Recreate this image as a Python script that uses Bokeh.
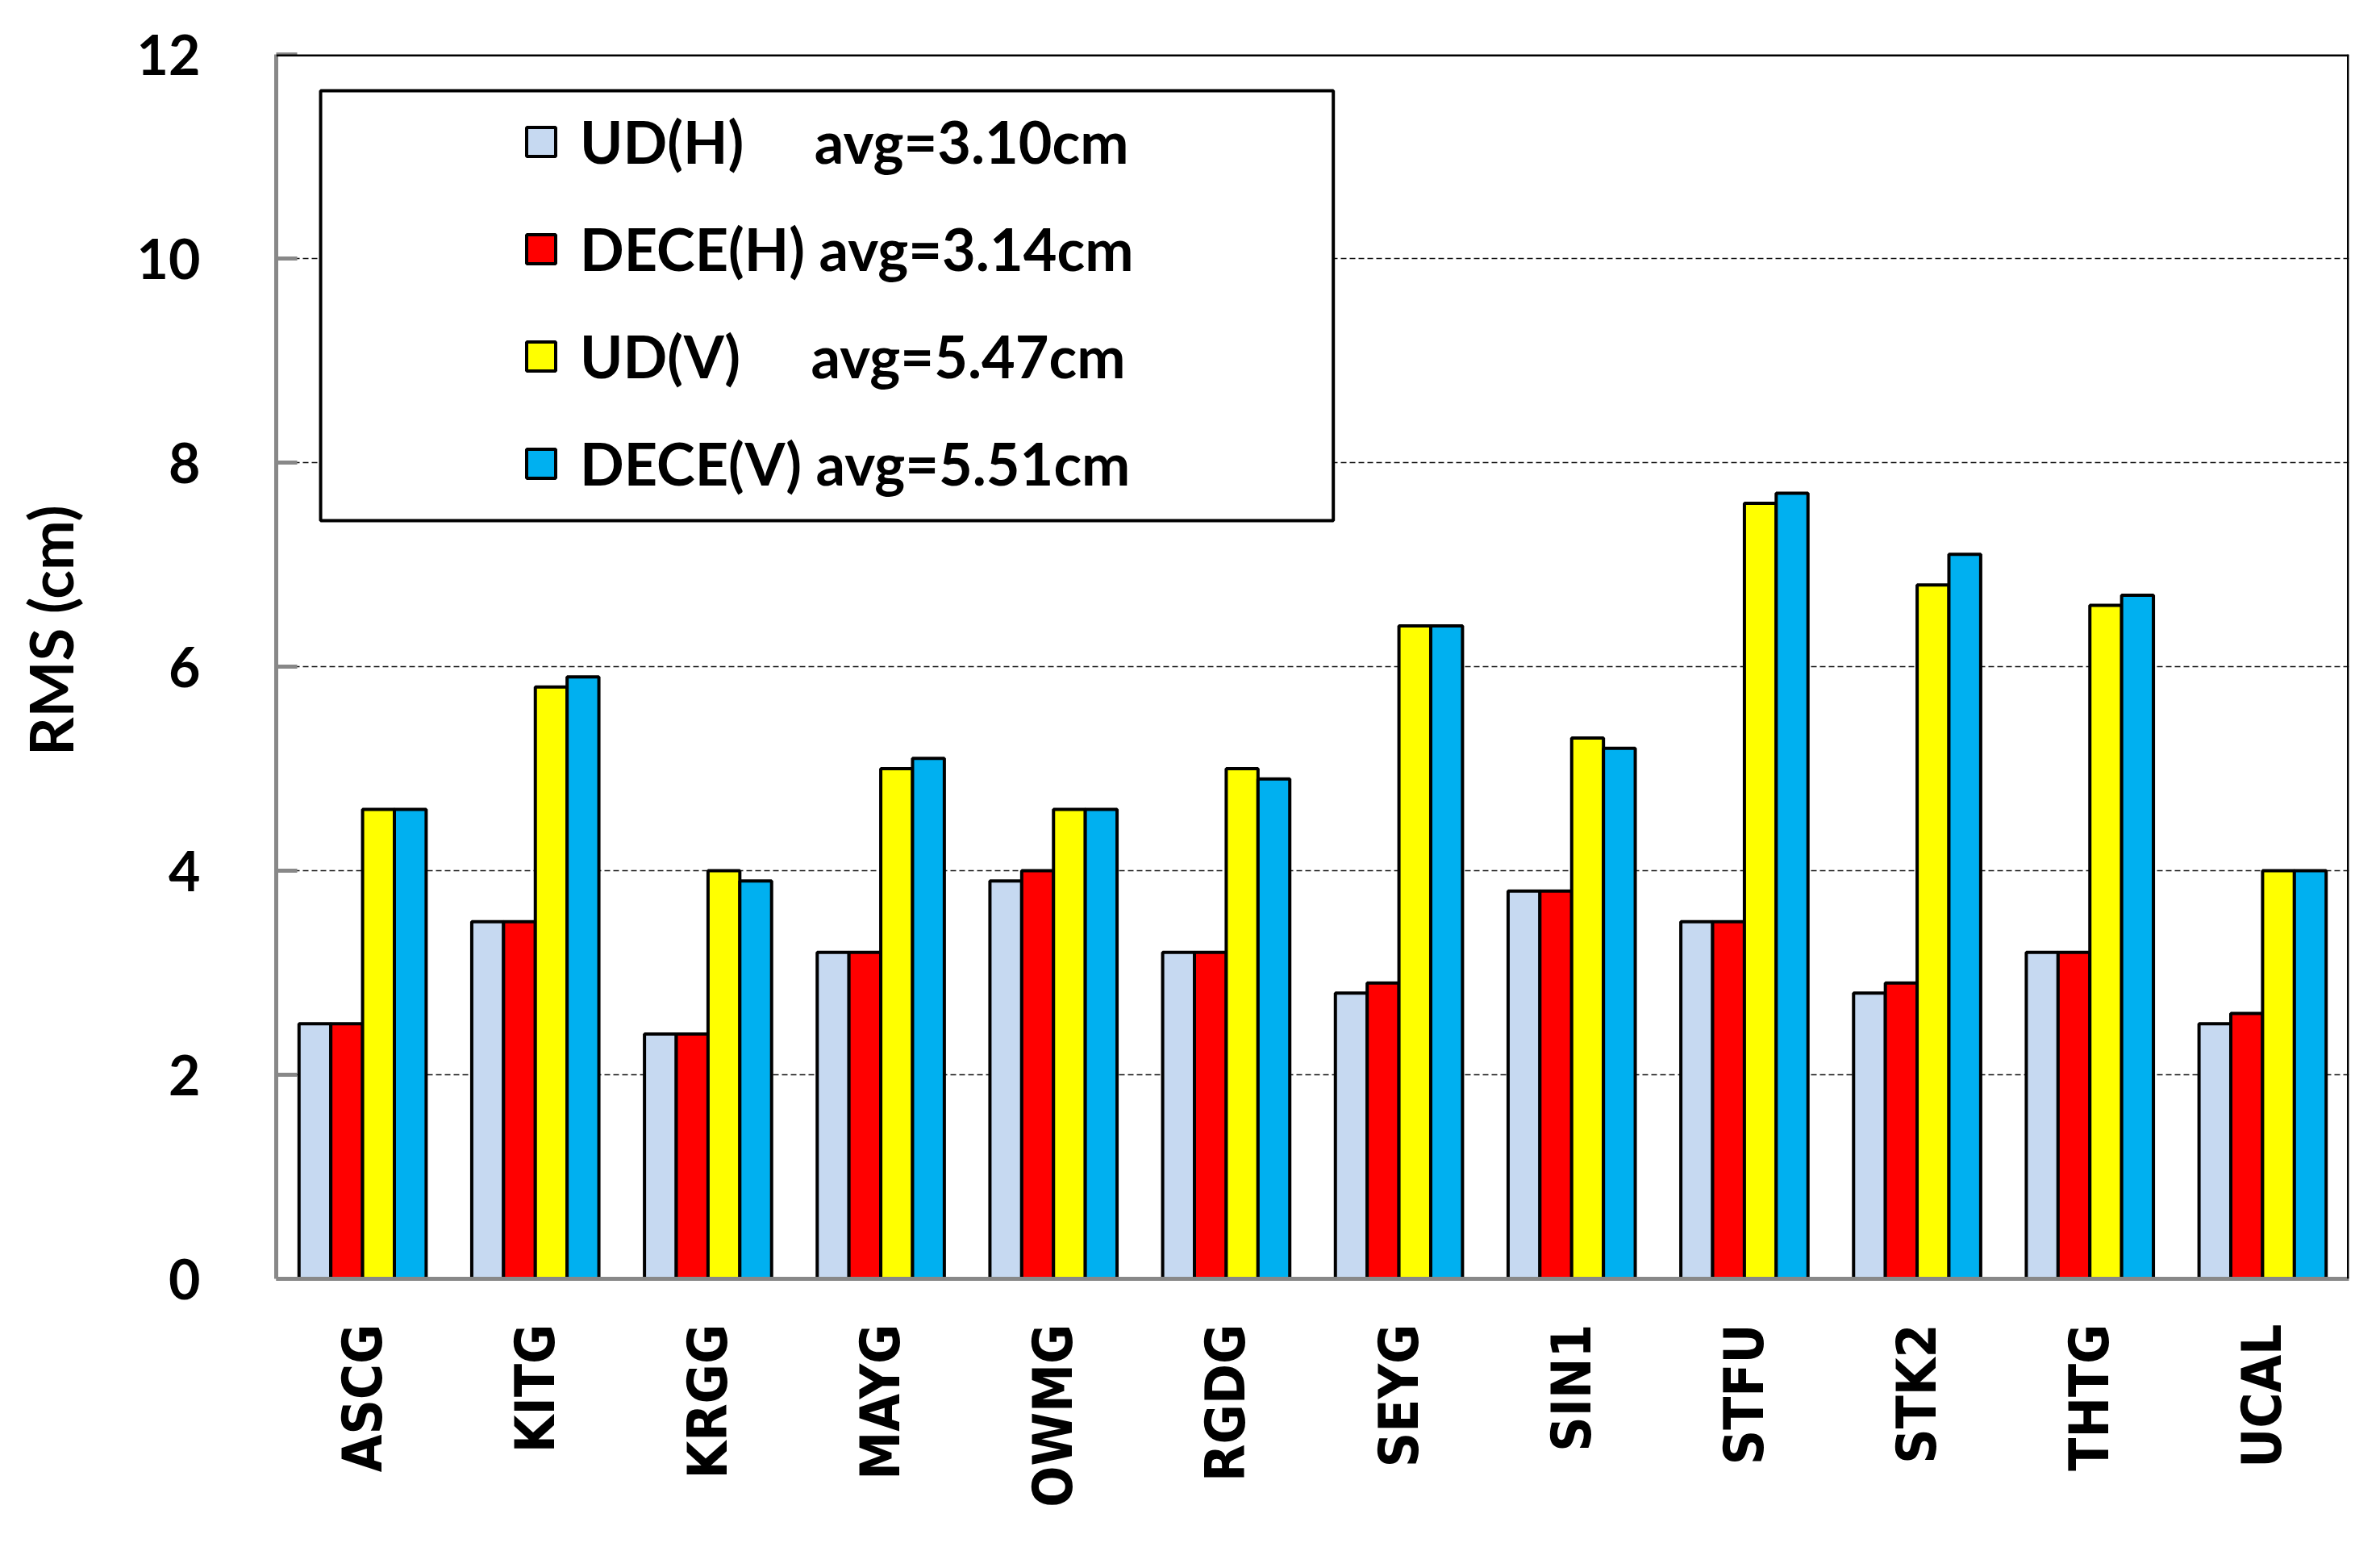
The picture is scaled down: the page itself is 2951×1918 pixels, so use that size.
import math
from bokeh.plotting import figure
from bokeh.models import (ColumnDataSource, Legend, LegendItem, BoxAnnotation,
                          FixedTicker, Span)
from bokeh.transform import dodge
from bokeh.embed import file_html
from bokeh.resources import INLINE

sites = ["ASCG", "KITG", "KRGG", "MAYG", "OWMG", "RGDG",
         "SEYG", "SIN1", "STFU", "STK2", "THTG", "UCAL"]
ud_h = [2.5, 3.5, 2.4, 3.2, 3.9, 3.2, 2.8, 3.8, 3.5, 2.8, 3.2, 2.5]
dece_h = [2.5, 3.5, 2.4, 3.2, 4.0, 3.2, 2.9, 3.8, 3.5, 2.9, 3.2, 2.6]
ud_v = [4.6, 5.8, 4.0, 5.0, 4.6, 5.0, 6.4, 5.3, 7.6, 6.8, 6.6, 4.0]
dece_v = [4.6, 5.9, 3.9, 5.1, 4.6, 4.9, 6.4, 5.2, 7.7, 7.1, 6.7, 4.0]

series_keys = ["ud_h", "dece_h", "ud_v", "dece_v"]
legend_labels = [
    "UD(H)\u00a0\u00a0\u00a0\u00a0 avg=3.10cm",
    "DECE(H) avg=3.14cm",
    "UD(V)\u00a0\u00a0\u00a0\u00a0 avg=5.47cm",
    "DECE(V) avg=5.51cm",
]
colors = ["#C6D9F1", "#FF0000", "#FFFF00", "#00B0F0"]
y_ticks = [0, 2, 4, 6, 8, 10, 12]
y_label = "\u00a0\u00a0\u00a0\u00a0\u00a0RMS (cm)"
y_max = 12

source = ColumnDataSource(dict(site=sites, ud_h=ud_h, dece_h=dece_h,
                               ud_v=ud_v, dece_v=dece_v))

CAL = "Lato"
XFONT = "'DejaVu Sans Condensed', 'DejaVu Sans'"

p = figure(x_range=sites, y_range=(0, y_max), width=2935, height=1902,
           output_backend="svg", toolbar_location=None,
           min_border_left=342, min_border_right=23,
           min_border_top=67, min_border_bottom=317)
p.outline_line_color = None
p.background_fill_color = "white"

bw = 0.184
offsets = [-1.5 * bw, -0.5 * bw, 0.5 * bw, 1.5 * bw]
renderers = []
for key, off, col in zip(series_keys, offsets, colors):
    r = p.vbar(x=dodge("site", off, range=p.x_range), top=key, width=bw,
               source=source, fill_color=col, line_color="black", line_width=4)
    renderers.append(r)

# axes
p.yaxis.ticker = FixedTicker(ticks=y_ticks)
p.yaxis.axis_line_color = "#888888"
p.yaxis.axis_line_width = 5
p.yaxis.major_tick_line_color = "#888888"
p.yaxis.major_tick_line_width = 5
p.yaxis.major_tick_in = 26
p.yaxis.major_tick_out = 0
p.yaxis.minor_tick_line_color = None
p.yaxis.major_label_standoff = 94
p.yaxis.major_label_text_font = CAL
p.yaxis.major_label_text_font_style = "bold"
p.yaxis.major_label_text_font_size = "68px"
p.yaxis.major_label_text_color = "black"
p.yaxis.axis_label = y_label
p.yaxis.axis_label_text_font = CAL
p.yaxis.axis_label_text_font_style = "bold"
p.yaxis.axis_label_text_font_size = "74px"
p.yaxis.axis_label_text_color = "black"
p.yaxis.axis_label_standoff = 60

p.xaxis.axis_line_color = "#888888"
p.xaxis.axis_line_width = 5
p.xaxis.major_tick_line_color = None
p.xaxis.major_tick_in = 0
p.xaxis.major_tick_out = 0
p.xaxis.major_label_orientation = math.pi / 2
p.xaxis.major_label_standoff = 56
p.xaxis.major_label_text_font = XFONT
p.xaxis.major_label_text_font_style = "bold"
p.xaxis.major_label_text_font_size = "67px"
p.xaxis.major_label_text_color = "black"

p.xgrid.grid_line_color = None
p.ygrid.ticker = FixedTicker(ticks=y_ticks)
p.ygrid.grid_line_color = "#111111"
p.ygrid.grid_line_width = 1.5
p.ygrid.grid_line_dash = "7 4"

# top and right frame lines
p.add_layout(Span(location=y_max, dimension="width", line_color="black", line_width=5))
p.add_layout(Span(location=len(sites), dimension="height", line_color="black", line_width=5))

# legend frame
box = BoxAnnotation(left=0.257, right=6.12, bottom=7.43, top=11.645,
                    fill_color="white", fill_alpha=1.0,
                    line_color="black", line_alpha=1.0, line_width=4)
p.add_layout(box)

items = [LegendItem(label=lab, renderers=[r]) for lab, r in zip(legend_labels, renderers)]
legend = Legend(items=items, location=(306, 968), orientation="vertical",
                border_line_color=None, background_fill_alpha=0,
                padding=0, margin=0, spacing=47,
                glyph_width=45, glyph_height=45, label_height=86,
                label_standoff=26, label_text_font=CAL,
                label_text_font_style="bold", label_text_font_size="72px",
                label_text_color="black")
p.add_layout(legend)

open("out.html", "w").write(file_html(p, INLINE))
